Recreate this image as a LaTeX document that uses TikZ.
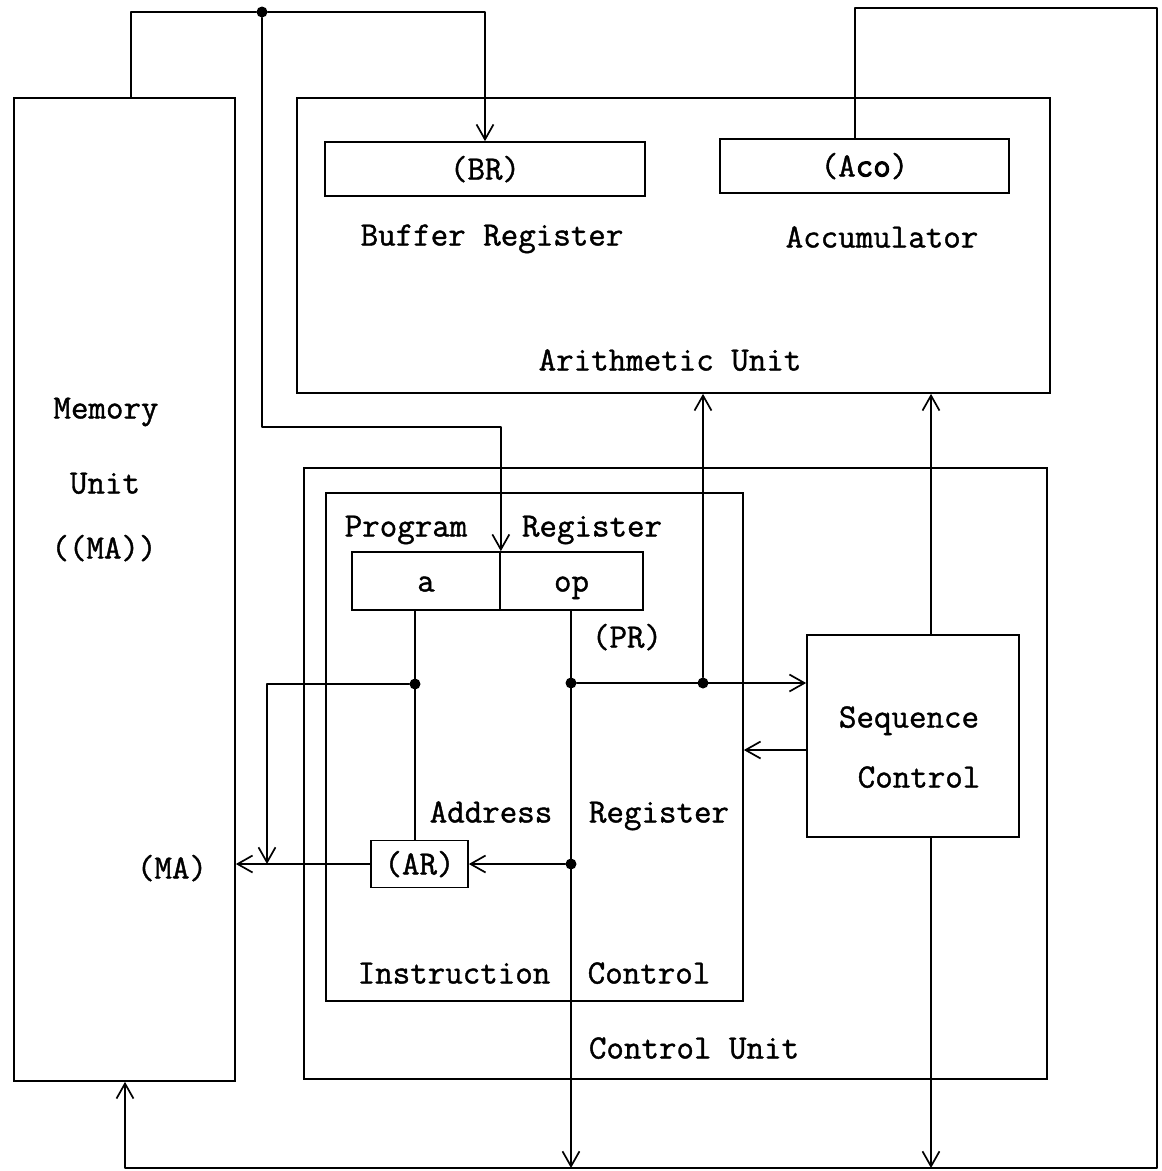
\documentclass[tikz,border=0pt]{standalone}
\usepackage{fontspec}
\newfontfamily\twfont{Latin Modern Mono}[RawFeature={embolden=1.2}]
\newfontfamily\twbold{Latin Modern Mono}[RawFeature={embolden=3}]
\usetikzlibrary{arrows.meta}
\begin{document}
\begin{tikzpicture}[x=1pt,y=-1pt,
  wire/.style={line width=1.7pt,line cap=round,line join=round},
  arr/.style={wire,-{Straight Barb[length=15pt,width=17pt,line width=1.7pt]}},
  box/.style={draw,line width=1.7pt,inner sep=0pt},
  lbl/.style={font=\fontsize{34}{40}\selectfont\twfont,inner sep=0pt,text height=21pt,text depth=0pt},
  jdot/.style={circle,fill,inner sep=0pt,minimum size=11pt}]
\useasboundingbox[fill=white] (0,0) rectangle (1162,1171);

% boxes
\node[box,minimum width=221pt,minimum height=983pt] (mem) at (124.5,589.5) {};
\node[box,minimum width=753pt,minimum height=295pt] (ari) at (673.5,245.5) {};
\node[box,minimum width=320pt,minimum height=54pt,lbl] (br) at (485,169) {(BR)};
\node[box,minimum width=289pt,minimum height=54pt,lbl] (acc) at (864.5,166) {(A{\twbold co})};
\node[box,minimum width=743pt,minimum height=611pt] (cu) at (675.5,773.5) {};
\node[box,minimum width=417pt,minimum height=508pt] (ic) at (534.5,747) {};
\node[box,minimum width=148pt,minimum height=58pt,lbl] (pra) at (426,581) {a};
\node[box,minimum width=143pt,minimum height=58pt,lbl] (pro) at (571.5,581) {op};
\node[box,minimum width=97pt,minimum height=47pt,lbl] (ar) at (419.5,864) {(AR)};
\node[box,minimum width=212pt,minimum height=202pt] (seq) at (913,736) {};

% labels
\node[lbl] (tBuf) at (492,235) {Buffer Register};
\node[lbl] (tAcc) at (882,237) {Accumulator};
\node[lbl] (tAri) at (670,360) {Arithmetic Unit};
\node[lbl] (tMem1) at (106,408) {Memory};
\node[lbl] (tMem2) at (105,483) {Unit};
\node[lbl] (tMem3) at (104,548) {((MA))};
\node[lbl] (tProg) at (406,526) {Program};
\node[lbl] (tReg1) at (592,526) {Register};
\node[lbl] (tPR) at (627,637) {(PR)};
\node[lbl] (tAdr) at (491,812) {Address};
\node[lbl] (tReg2) at (659,812) {Register};
\node[lbl] (tMA) at (172,868) {(MA)};
\node[lbl] (tIns) at (454,973) {Instruction};
\node[lbl] (tCtl) at (649,973) {Control};
\node[lbl] (tSeq1) at (909,717) {Sequence};
\node[lbl] (tSeq2) at (919,777) {Control};
\node[lbl] (tCU) at (694,1048) {Control Unit};

% junction dots
\node[jdot] (d1) at (262,12) {};
\node[jdot] (dA) at (415,684) {};
\node[jdot] (dB) at (571,683) {};
\node[jdot] (dC) at (571,864) {};
\node[jdot] (dD) at (703,683) {};

% bend points
\coordinate (mt) at (131,12);
\coordinate (b2) at (262,427);
\coordinate (at) at (855,8);
\coordinate (tr) at (1157,8);
\coordinate (brc) at (1157,1168);
\coordinate (bl) at (125,1168);
\coordinate (c5) at (267,684);
\coordinate (bo) at (571,1168);
\coordinate (sx) at (931,0);
\coordinate (sy) at (0,750);

% connectors
\draw[arr] (mt |- mem.north) -- (mt) -- (d1) -| (br.north);
\draw[arr] (d1) -- (b2) -| (pra.north east);
\draw[arr] (at |- acc.north) -- (at) -- (tr) -- (brc) -- (bl) -- (bl |- mem.south);
\draw[wire] (dA |- pra.south) -- (dA |- ar.north);
\draw[arr] (dA) -- (c5) -- (c5 |- ar.west);
\draw[arr] (ar.west) -- (ar.west -| mem.east);
\draw[arr] (dB |- pro.south) -- (bo);
\draw[arr] (dC) -- (ar.east);
\draw[arr] (dB) -- (dB -| seq.west);
\draw[arr] (dD) -- (dD |- ari.south);
\draw[arr] (sx |- seq.north) -- (sx |- ari.south);
\draw[arr] (sx |- seq.south) -- (sx |- bl);
\draw[arr] (sy -| seq.west) -- (sy -| ic.east);
\end{tikzpicture}
\end{document}
